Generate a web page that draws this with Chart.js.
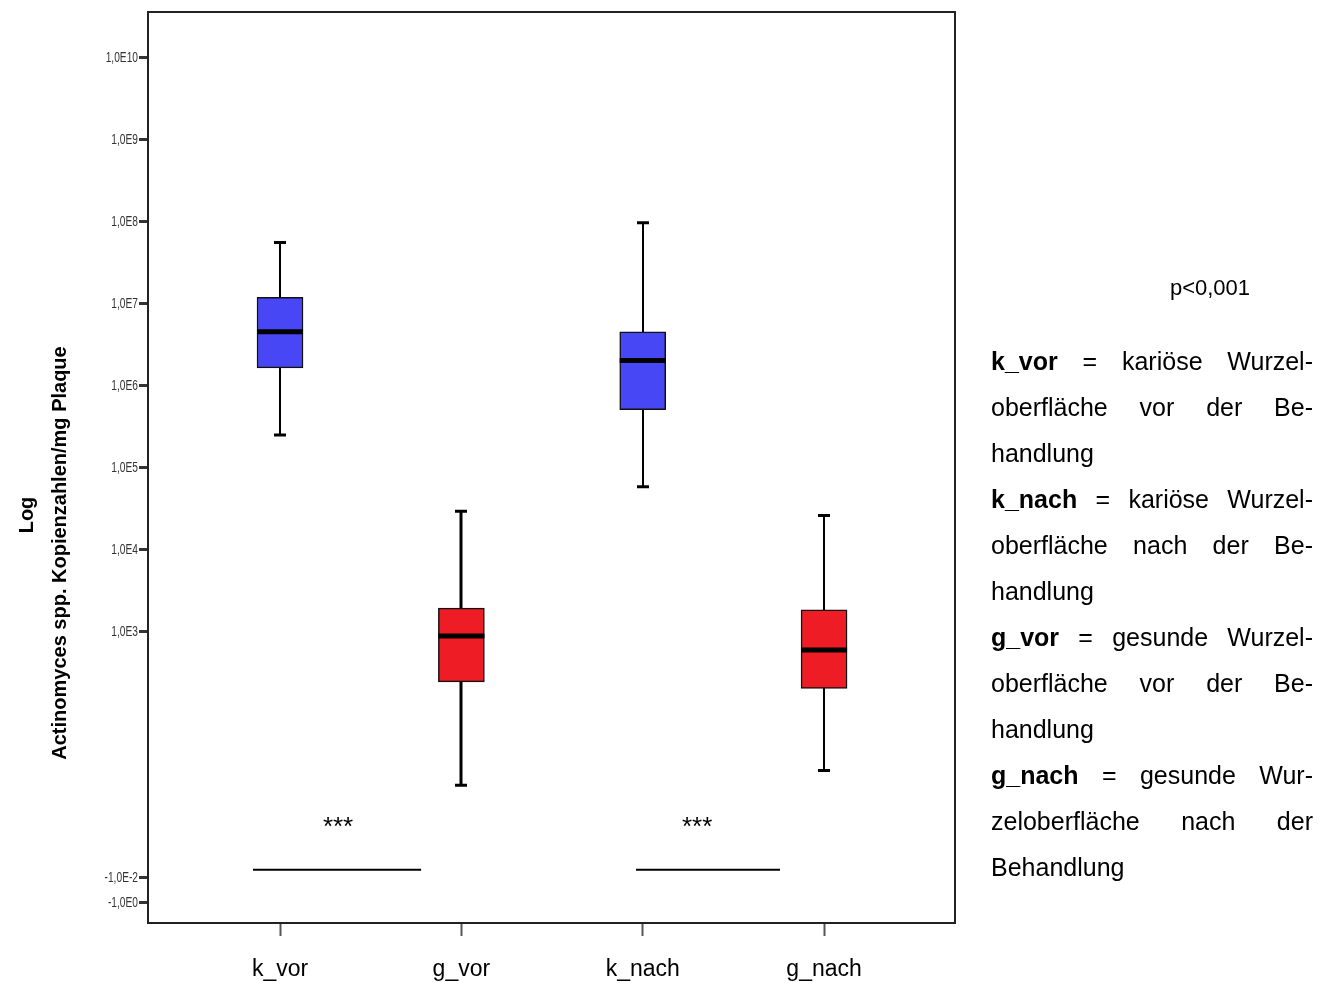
<!DOCTYPE html>
<html>
<head>
<meta charset="utf-8">
<script src="https://cdn.jsdelivr.net/npm/chart.js@4/dist/chart.umd.min.js"></script>
<style>
  html, body { margin: 0; padding: 0; background: #fff; }
  #wrap { position: relative; width: 1332px; height: 983px; }
  #c { position: absolute; left: 0; top: 0; }
  .pval { position: absolute; left: 1110px; width: 200px; top: 275px; text-align: center;
          font-family: "Liberation Sans", Arial, sans-serif; font-size: 22px; color: #000; }
  .legend { position: absolute; left: 991px; top: 338px; width: 322px;
            font-family: "Liberation Sans", Arial, sans-serif; font-size: 25px; color: #000; }
  .legend div { height: 46px; line-height: 46px; white-space: nowrap; }
  .legend .j { text-align: justify; text-align-last: justify; white-space: normal; overflow: hidden; }
  .legend b { font-weight: bold; }
</style>
</head>
<body>
<div id="wrap">
  <canvas id="c" width="1332" height="983"></canvas>
  <div class="pval">p&lt;0,001</div>
  <div class="legend">
    <div class="j"><b>k_vor</b> = kariöse Wurzel-</div>
    <div class="j">oberfläche vor der Be-</div>
    <div>handlung</div>
    <div class="j"><b>k_nach</b> = kariöse Wurzel-</div>
    <div class="j">oberfläche nach der Be-</div>
    <div>handlung</div>
    <div class="j"><b>g_vor</b> = gesunde Wurzel-</div>
    <div class="j">oberfläche vor der Be-</div>
    <div>handlung</div>
    <div class="j"><b>g_nach</b> = gesunde Wur-</div>
    <div class="j">zeloberfläche nach der</div>
    <div>Behandlung</div>
  </div>
</div>
<script>
// ---- data (values on the log10 scale) ----
const categories   = ['k_vor', 'g_vor', 'k_nach', 'g_nach'];
const whiskerLow   = [5.40, 1.13, 4.77, 1.31];
const quartile1    = [6.22, 2.39, 5.71, 2.31];
const medians      = [6.66, 2.95, 6.31, 2.78];
const quartile3    = [7.08, 3.29, 6.66, 3.27];
const whiskerHigh  = [7.75, 4.47, 7.99, 4.42];
const groupColors  = ['#4747F5', '#EE1C25', '#4747F5', '#EE1C25'];

const yTickValues  = [10, 9, 8, 7, 6, 5, 4, 3, 0, -0.3];
const yTickLabels  = ['1,0E10', '1,0E9', '1,0E8', '1,0E7', '1,0E6', '1,0E5', '1,0E4', '1,0E3', '-1,0E-2', '-1,0E0'];

// significance annotations
const sigLine1X = [0.851, 1.778];
const sigLine2X = [2.963, 3.757];
const sigLineY  = 0.10;
const sigStarX  = [1.32, 3.30];
const sigStarY  = 0.52;
const sigText   = '***';

const yTitle1 = 'Log';
const yTitle2 = 'Actinomyces spp. Kopienzahlen/mg Plaque';

const boxData = categories.map((c, i) => ({ x: i + 1, y: [quartile1[i], quartile3[i]] }));

const boxPlugin = {
  id: 'boxplot',
  beforeDatasetsDraw(chart) {
    const { ctx, scales: { x, y } } = chart;
    ctx.save();
    ctx.strokeStyle = '#000';
    categories.forEach((c, i) => {
      const px = Math.round(x.getPixelForValue(i + 1));
      const yHi = y.getPixelForValue(whiskerHigh[i]);
      const yLo = y.getPixelForValue(whiskerLow[i]);
      ctx.lineWidth = (i === 1) ? 3 : 2;
      ctx.beginPath(); ctx.moveTo(px, yHi); ctx.lineTo(px, yLo); ctx.stroke();
      ctx.lineWidth = 3;
      ctx.beginPath();
      ctx.moveTo(px - 6, yHi); ctx.lineTo(px + 6, yHi);
      ctx.moveTo(px - 6, yLo); ctx.lineTo(px + 6, yLo);
      ctx.stroke();
    });
    ctx.restore();
  },
  afterDatasetsDraw(chart) {
    const { ctx, scales: { x, y } } = chart;
    const meta = chart.getDatasetMeta(0);
    ctx.save();
    ctx.strokeStyle = '#000';
    ctx.lineWidth = 5;
    categories.forEach((c, i) => {
      const bar = meta.data[i];
      const px = bar.x, hw = bar.width / 2;
      const py = y.getPixelForValue(medians[i]);
      ctx.beginPath(); ctx.moveTo(px - hw, py); ctx.lineTo(px + hw, py); ctx.stroke();
    });
    // stars
    ctx.fillStyle = '#000';
    ctx.font = '26px "Liberation Sans", Arial, sans-serif';
    ctx.textAlign = 'center';
    ctx.textBaseline = 'alphabetic';
    sigStarX.forEach(sx => {
      ctx.fillText(sigText, x.getPixelForValue(sx), y.getPixelForValue(sigStarY));
    });
    ctx.restore();
  },
  afterDraw(chart) {
    const { ctx, chartArea: a, scales: { y } } = chart;
    ctx.save();
    ctx.strokeStyle = '#222';
    ctx.lineWidth = 2;
    ctx.strokeRect(a.left, a.top, a.right - a.left, a.bottom - a.top);
    ctx.restore();
    // condensed y tick labels (SPSS style)
    ctx.save();
    ctx.fillStyle = '#333';
    ctx.font = '15px "Liberation Sans", Arial, sans-serif';
    ctx.textAlign = 'right';
    ctx.textBaseline = 'middle';
    yTickValues.forEach((v, i) => {
      const py = y.getPixelForValue(v);
      ctx.save();
      ctx.translate(138, py);
      ctx.scale(0.68, 1);
      ctx.fillText(yTickLabels[i], 0, 0);
      ctx.restore();
    });
    ctx.restore();
    // y axis titles
    [[yTitle1, 27, 515], [yTitle2, 60, 553]].forEach(([t, cx, cy]) => {
      ctx.save();
      ctx.fillStyle = '#000';
      ctx.font = 'bold 20px "Liberation Sans", Arial, sans-serif';
      ctx.textAlign = 'center';
      ctx.textBaseline = 'middle';
      ctx.translate(cx, cy);
      ctx.rotate(-Math.PI / 2);
      ctx.fillText(t, 0, 0);
      ctx.restore();
    });
  }
};

new Chart(document.getElementById('c'), {
  data: {
    datasets: [
      {
        type: 'bar',
        data: boxData,
        backgroundColor: groupColors,
        borderColor: '#111',
        borderWidth: 1.5,
        borderSkipped: false,
        barThickness: 46
      },
      {
        type: 'line',
        data: sigLine1X.map(v => ({ x: v, y: sigLineY })),
        borderColor: '#000', borderWidth: 2, pointRadius: 0, fill: false
      },
      {
        type: 'line',
        data: sigLine2X.map(v => ({ x: v, y: sigLineY })),
        borderColor: '#000', borderWidth: 2, pointRadius: 0, fill: false
      }
    ]
  },
  options: {
    responsive: false,
    animation: false,
    events: [],
    layout: { padding: { left: 0, top: 12, right: 377, bottom: 0 } },
    plugins: { legend: { display: false }, tooltip: { enabled: false } },
    scales: {
      x: {
        type: 'linear',
        offset: false,
        min: 0.272, max: 4.722,
        afterBuildTicks: s => { s.ticks = categories.map((c, i) => ({ value: i + 1 })); },
        afterFit: s => { s.height = 60; },
        ticks: {
          callback: v => categories[v - 1] || '',
          autoSkip: false, maxRotation: 0, padding: 20,
          color: '#000',
          font: { family: '"Liberation Sans", Arial, sans-serif', size: 23 }
        },
        grid: { offset: false, drawOnChartArea: false, drawTicks: true, tickLength: 13, tickWidth: 2, tickColor: '#555', color: '#555' },
        border: { display: false }
      },
      y: {
        type: 'linear',
        min: -0.55, max: 10.56,
        afterBuildTicks: s => { s.ticks = yTickValues.map(v => ({ value: v })); },
        afterFit: s => { s.width = 148; },
        ticks: {
          display: false,
          autoSkip: false
        },
        grid: { drawOnChartArea: false, drawTicks: true, tickLength: 9, tickWidth: 3, tickColor: '#333', color: '#333' },
        border: { display: false }
      }
    }
  },
  plugins: [boxPlugin]
});
</script>
</body>
</html>
